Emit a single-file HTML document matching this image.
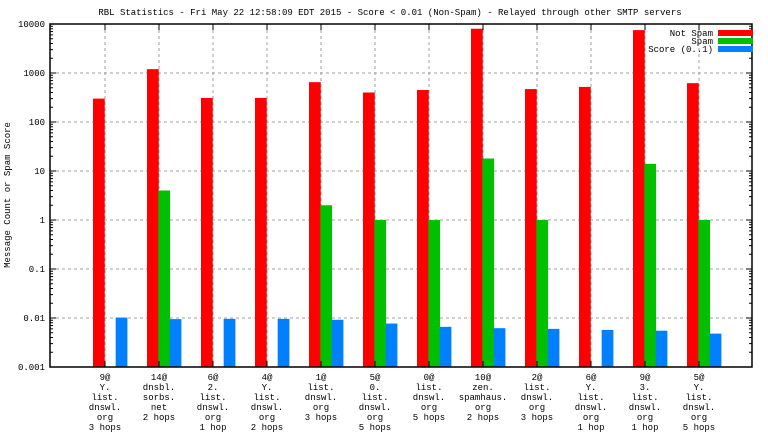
<!DOCTYPE html>
<html><head><meta charset="utf-8"><style>
body{margin:0;background:#fff}
svg text{font-family:"Liberation Mono","DejaVu Sans Mono",monospace;font-size:9px;fill:#000}
</style></head><body>
<svg id="c" width="768" height="432" xmlns="http://www.w3.org/2000/svg">
<text x="390" y="15" text-anchor="middle">RBL Statistics - Fri May 22 12:58:09 EDT 2015 - Score &lt; 0.01 (Non-Spam) - Relayed through other SMTP servers</text>
<text transform="translate(10,195) rotate(-90)" text-anchor="middle">Message Count or Spam Score</text>
<g id="grid"></g><g id="bars"></g><g id="axes"></g>
<g>
<text x="713" y="36" text-anchor="end">Not Spam</text>
<rect x="718" y="30" width="35" height="6" fill="#ff0000"/>
<text x="713" y="44" text-anchor="end">Spam</text>
<rect x="718" y="38" width="35" height="6" fill="#00c000"/>
<text x="713" y="52" text-anchor="end">Score (0..1)</text>
<rect x="718" y="46" width="35" height="6" fill="#0080ff"/>
</g>
</svg>
<script>
const categories=[["9@","Y.","list.","dnswl.","org","3 hops"],["14@","dnsbl.","sorbs.","net","2 hops"],["6@","2.","list.","dnswl.","org","1 hop"],["4@","Y.","list.","dnswl.","org","2 hops"],["1@","list.","dnswl.","org","3 hops"],["5@","0.","list.","dnswl.","org","5 hops"],["0@","list.","dnswl.","org","5 hops"],["10@","zen.","spamhaus.","org","2 hops"],["2@","list.","dnswl.","org","3 hops"],["6@","Y.","list.","dnswl.","org","1 hop"],["9@","3.","list.","dnswl.","org","1 hop"],["5@","Y.","list.","dnswl.","org","5 hops"]];
const notSpam=[300,1200,310,310,650,400,450,8000,470,520,7500,620];
const spam=[0,4,0,0,2,1,1,18,1,0,14,1];
const score=[0.0102,0.0095,0.0096,0.0096,0.0092,0.0077,0.0066,0.0062,0.006,0.0057,0.0055,0.0048];
const yTicks=[0.001,0.01,0.1,1,10,100,1000,10000];
const yTickLabels=["0.001","0.01","0.1","1","10","100","1000","10000"];
const NS="http://www.w3.org/2000/svg";
const L=50,R=752,T=24,B=367;
const y=v=>B-(Math.log10(v)+3)/7*(B-T);
const xc=i=>105+54*i;
function mk(t,a,p){const e=document.createElementNS(NS,t);for(const k in a)e.setAttribute(k,a[k]);p.appendChild(e);return e;}
const grid=document.getElementById('grid'),bars=document.getElementById('bars'),axes=document.getElementById('axes');
yTicks.forEach((v,i)=>{
 const yy=y(v);
 if(i>0&&i<yTicks.length-1){const g=mk('line',{x1:L,x2:R,y1:yy,y2:yy,stroke:'#a0a0a0','stroke-dasharray':'3,3'},grid);
 
 }
 mk('line',{x1:L,x2:L+6,y1:yy,y2:yy,stroke:'#000'},axes);
 mk('line',{x1:R,x2:R-6,y1:yy,y2:yy,stroke:'#000'},axes);
 const t=mk('text',{x:L-5,y:yy+3,'text-anchor':'end'},axes);t.textContent=yTickLabels[i];
 
 
 if(i<yTicks.length-1)for(let m=2;m<10;m++){const my=y(v*m);
  mk('line',{x1:L,x2:L+3,y1:my,y2:my,stroke:'#000'},axes);
  mk('line',{x1:R,x2:R-3,y1:my,y2:my,stroke:'#000'},axes);}
});
const bw=11.33;
categories.forEach((c,i)=>{
 const cx=xc(i);
 const g=mk('line',{x1:cx,x2:cx,y1:T,y2:B,stroke:'#a0a0a0','stroke-dasharray':'3,3'},grid);
 
 
 mk('line',{x1:cx,x2:cx,y1:T,y2:T+6,stroke:'#000'},axes);
 mk('line',{x1:cx,x2:cx,y1:B,y2:B-6,stroke:'#000'},axes);
 [[notSpam,'#ff0000','bar-not-spam'],[spam,'#00c000','bar-spam'],[score,'#0080ff','bar-score']].forEach((s,k)=>{
  const v=s[0][i]; if(!(v>0.001))return;
  const yy=y(v);
  const r=mk('rect',{x:cx-12+k*bw,y:yy,width:bw+0.4,height:B-yy,fill:s[1]},bars);
  
  
 });
 c.forEach((ln,j)=>{const t=mk('text',{x:cx,y:B+13+j*10,'text-anchor':'middle'},axes);t.textContent=ln;
  
  });
});
const f=mk('rect',{x:L,y:T,width:R-L,height:B-T,fill:'none',stroke:'#000','stroke-width':1.5},axes);


</script>
</body></html>
